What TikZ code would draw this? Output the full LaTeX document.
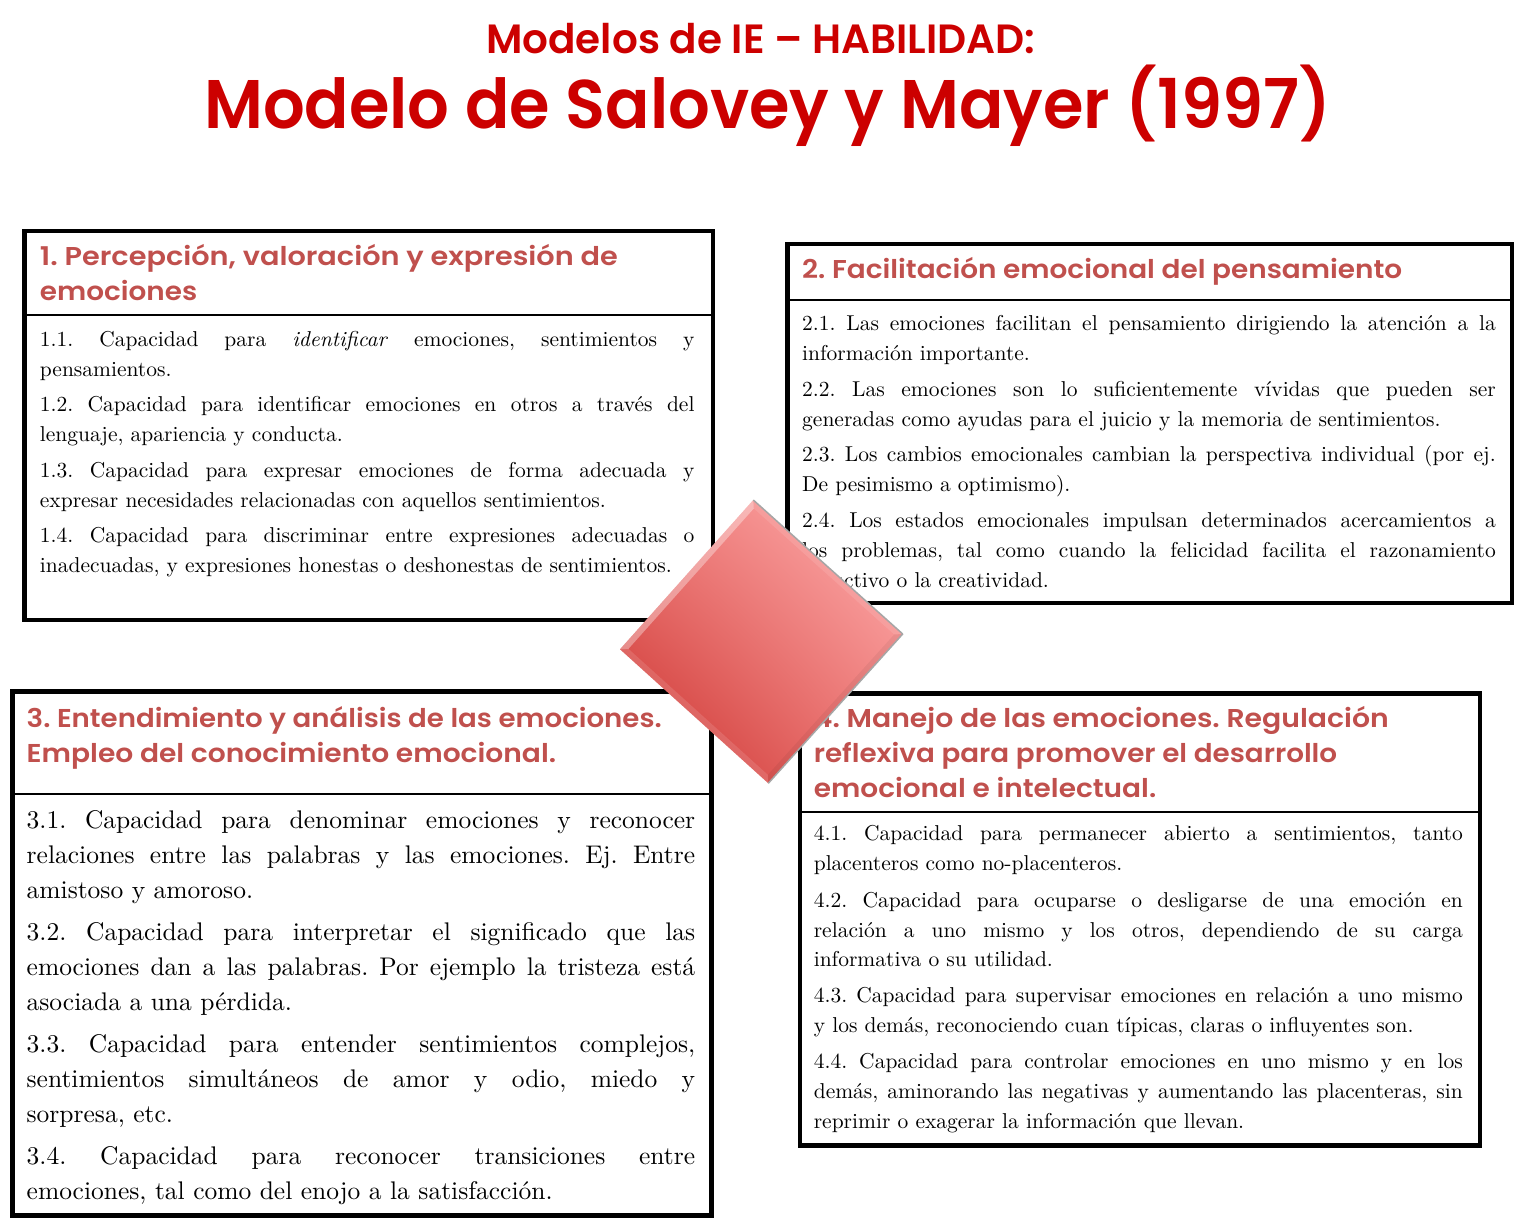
\documentclass[tikz,border=0pt]{standalone}
\usepackage{fontspec}
\usepackage{graphicx}
\setmainfont{lmroman10-regular.otf}[ItalicFont=lmroman10-italic.otf,BoldFont=lmroman10-bold.otf]
\newfontfamily\hfont{Poppins}[BoldFont={* SemiBold}]
\usetikzlibrary{calc,shadings}
\definecolor{ttlred}{HTML}{CC0000}
\definecolor{hdr}{HTML}{C0504D}
\definecolor{dmur}{RGB}{255,178,178}
\definecolor{dmul}{RGB}{238,120,118}
\definecolor{dmlr}{RGB}{238,120,118}
\definecolor{dmll}{RGB}{200,44,40}
\newcommand{\jline}[2]{\makebox[#1][s]{#2}}
\newcommand{\hdrline}[3]{\resizebox{#1}{#2}{\smash{#3}\vphantom{P}}}
\frenchspacing
\begin{document}
\begin{tikzpicture}[x=1pt,y=-1pt,
  box/.style={draw=black,line width=4.5pt,fill=white},
  sepline/.style={draw=black,line width=2.2pt},
  ttl/.style={anchor=base west,inner sep=0pt,text=ttlred,font=\hfont\bfseries},
  head/.style={anchor=base west,inner sep=0pt,text=hdr,font=\hfont\bfseries},
  bodyA/.style={anchor=base west,inner sep=0pt,font=\frenchspacing\fontsize{21.5pt}{21.5pt}\selectfont},
  bodyB/.style={anchor=base west,inner sep=0pt,font=\frenchspacing\fontsize{25.5pt}{25.5pt}\selectfont}]
\useasboundingbox (0,0) rectangle (1524,1228);
\fill[white] (0,0) rectangle (1524,1228);

% titles
\node[ttl] (t1) at (486,53.5) {\hdrline{549pt}{28.5pt}{Modelos de IE – HABILIDAD:}};
\node[ttl] (t2) at (204,128.5) {\hdrline{1126pt}{48pt}{Modelo de Salovey y Mayer (1997)}};

% boxes
\draw[box] (24.5,231) rectangle (713,620);
\draw[sepline] (24.5,315) -- (713,315);
\draw[box] (787.5,244) rectangle (1512,603);
\draw[sepline] (787.5,300) -- (1512,300);
\draw[box] (12.5,691.5) rectangle (711.5,1215.5);
\draw[sepline] (12.5,794) -- (711.5,794);
\draw[box] (800,693.5) rectangle (1480,1145.5);
\draw[sepline] (800,812) -- (1480,812);

% box 1
\node[head] (h1a) at (39.7,265) {\hdrline{577.9pt}{18pt}{1. Percepción, valoración y expresión de}};
\node[head] (h1b) at (39.7,300) {\hdrline{157.3pt}{18pt}{emociones}};
\node[bodyA] (b1a) at (39.7,346) {\jline{654.6pt}{1.1. Capacidad para \textit{identificar} emociones, sentimientos y}};
\node[bodyA] (b1b) at (39.7,376) {pensamientos.};
\node[bodyA] (b1c) at (39.7,411.7) {\jline{654.6pt}{1.2. Capacidad para identificar emociones en otros a través del}};
\node[bodyA] (b1d) at (39.7,441.7) {lenguaje, apariencia y conducta.};
\node[bodyA] (b1e) at (39.7,477) {\jline{654.6pt}{1.3. Capacidad para expresar emociones de forma adecuada y}};
\node[bodyA] (b1f) at (39.7,507) {expresar necesidades relacionadas con aquellos sentimientos.};
\node[bodyA] (b1g) at (39.7,542.7) {\jline{654.6pt}{1.4. Capacidad para discriminar entre expresiones adecuadas o}};
\node[bodyA] (b1h) at (39.7,572.7) {inadecuadas, y expresiones honestas o deshonestas de sentimientos.};

% box 2
\node[head] (h2a) at (802,278.3) {\hdrline{600pt}{18pt}{2. Facilitación emocional del pensamiento}};
\node[bodyA] (b2a) at (802,330) {\jline{693.6pt}{2.1. Las emociones facilitan el pensamiento dirigiendo la atención a la}};
\node[bodyA] (b2b) at (802,360) {información importante.};
\node[bodyA] (b2c) at (802,396.7) {\jline{693.6pt}{2.2. Las emociones son lo suficientemente vívidas que pueden ser}};
\node[bodyA] (b2d) at (802,426.5) {generadas como ayudas para el juicio y la memoria de sentimientos.};
\node[bodyA] (b2e) at (802,461.7) {\jline{693.6pt}{2.3. Los cambios emocionales cambian la perspectiva individual (por ej.}};
\node[bodyA] (b2f) at (802,491.7) {De pesimismo a optimismo).};
\node[bodyA] (b2g) at (802,527.7) {\jline{693.6pt}{2.4. Los estados emocionales impulsan determinados acercamientos a}};
\node[bodyA] (b2h) at (802,557.7) {\jline{693.6pt}{los problemas, tal como cuando la felicidad facilita el razonamiento}};
\node[bodyA] (b2i) at (802,587.7) {inductivo o la creatividad.};

% box 3
\node[head] (h3a) at (26.5,727) {\hdrline{635pt}{18pt}{3. Entendimiento y análisis de las emociones.}};
\node[head] (h3b) at (26.5,762.6) {\hdrline{529.5pt}{18pt}{Empleo del conocimiento emocional.}};
\node[bodyB] (b3a) at (26.5,828) {\jline{668.5pt}{3.1. Capacidad para denominar emociones y reconocer}};
\node[bodyB] (b3b) at (26.5,863) {\jline{668.5pt}{relaciones entre las palabras y las emociones. Ej. Entre}};
\node[bodyB] (b3c) at (26.5,898) {amistoso y amoroso.};
\node[bodyB] (b3d) at (26.5,940) {\jline{668.5pt}{3.2. Capacidad para interpretar el significado que las}};
\node[bodyB] (b3e) at (26.5,975) {\jline{668.5pt}{emociones dan a las palabras. Por ejemplo la tristeza está}};
\node[bodyB] (b3f) at (26.5,1010) {asociada a una pérdida.};
\node[bodyB] (b3g) at (26.5,1052) {\jline{668.5pt}{3.3. Capacidad para entender sentimientos complejos,}};
\node[bodyB] (b3h) at (26.5,1087) {\jline{668.5pt}{sentimientos simultáneos de amor y odio, miedo y}};
\node[bodyB] (b3i) at (26.5,1122) {sorpresa, etc.};
\node[bodyB] (b3j) at (26.5,1164.5) {\jline{668.5pt}{3.4. Capacidad para reconocer transiciones entre}};
\node[bodyB] (b3k) at (26.5,1199.5) {emociones, tal como del enojo a la satisfacción.};

% box 4
\node[head] (h4a) at (813.6,727) {\hdrline{575pt}{18pt}{4. Manejo de las emociones. Regulación}};
\node[head] (h4b) at (813.6,762.5) {\hdrline{523.4pt}{18pt}{reflexiva para promover el desarrollo}};
\node[head] (h4c) at (813.6,797.5) {\hdrline{342.4pt}{18pt}{emocional e intelectual.}};
\node[bodyA] (b4a) at (813.6,840.5) {\jline{649pt}{4.1. Capacidad para permanecer abierto a sentimientos, tanto}};
\node[bodyA] (b4b) at (813.6,870.6) {placenteros como no-placenteros.};
\node[bodyA] (b4c) at (813.6,907.4) {\jline{649pt}{4.2. Capacidad para ocuparse o desligarse de una emoción en}};
\node[bodyA] (b4d) at (813.6,937.4) {\jline{649pt}{relación a uno mismo y los otros, dependiendo de su carga}};
\node[bodyA] (b4e) at (813.6,966.5) {informativa o su utilidad.};
\node[bodyA] (b4f) at (813.6,1002.6) {\jline{649pt}{4.3. Capacidad para supervisar emociones en relación a uno mismo}};
\node[bodyA] (b4g) at (813.6,1032.6) {y los demás, reconociendo cuan típicas, claras o influyentes son.};
\node[bodyA] (b4h) at (813.6,1068.7) {\jline{649pt}{4.4. Capacidad para controlar emociones en uno mismo y en los}};
\node[bodyA] (b4i) at (813.6,1098.8) {\jline{649pt}{demás, aminorando las negativas y aumentando las placenteras, sin}};
\node[bodyA] (b4j) at (813.6,1128.9) {reprimir o exagerar la información que llevan.};

% central diamond
\coordinate (dT) at (753.3,500);
\coordinate (dR) at (902.7,634);
\coordinate (dB) at (768.3,783.3);
\coordinate (dL) at (620,649.3);
\coordinate (dC) at (761,641.7);
\coordinate (iT) at ($(dC)!0.94!(dT)$);
\coordinate (iR) at ($(dC)!0.94!(dR)$);
\coordinate (iB) at ($(dC)!0.94!(dB)$);
\coordinate (iL) at ($(dC)!0.94!(dL)$);
\shade[upper left=dmul,upper right=dmur,lower left=dmll,lower right=dmlr] (dT) -- (dR) -- (dB) -- (dL) -- cycle;
\fill[white,opacity=.35] (dL) -- (dT) -- (iT) -- (iL) -- cycle;
\fill[white,opacity=.12] (dB) -- (dL) -- (iL) -- (iB) -- cycle;
\fill[white,opacity=.10] (dT) -- (dR) -- (iR) -- (iT) -- cycle;
\fill[black,opacity=.05] (dR) -- (dB) -- (iB) -- (iR) -- cycle;
\draw[gray!70,line width=1.5pt,line join=round] (dT) -- (dR) -- (dB);
\end{tikzpicture}
\end{document}
